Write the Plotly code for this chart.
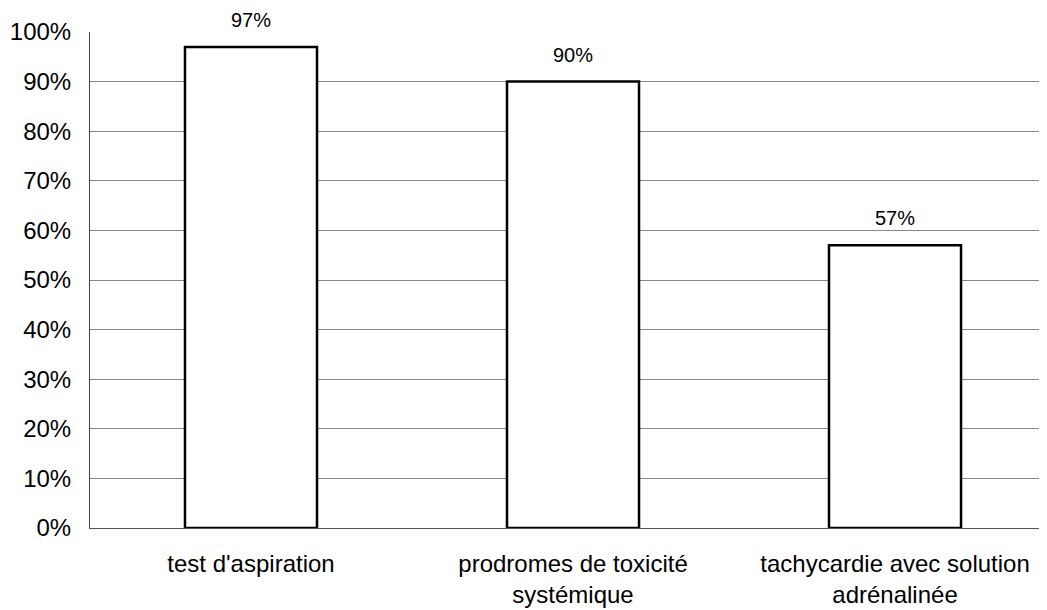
import plotly.graph_objects as go

categories = ["test d'aspiration", "prodromes de toxicité<br>systémique", "tachycardie avec solution<br>adrénalinée"]
values = [0.97, 0.90, 0.57]
value_labels = ["97%", "90%", "57%"]
y_tickvals = [0, 0.1, 0.2, 0.3, 0.4, 0.5, 0.6, 0.7, 0.8, 0.9, 1.0]
y_ticktext = ["0%", "10%", "20%", "30%", "40%", "50%", "60%", "70%", "80%", "90%", "100%"]
grid_vals = [0.1, 0.2, 0.3, 0.4, 0.5, 0.6, 0.7, 0.8, 0.9]
x_pos = [0, 1, 2]

fig = go.Figure(go.Bar(
    x=x_pos, y=values, width=0.41,
    marker=dict(color="white", line=dict(color="black", width=2.5)),
))

for xp, v, lab in zip(x_pos, values, value_labels):
    fig.add_annotation(x=xp, y=v, text=lab, showarrow=False, yanchor="bottom",
                       yshift=14, font=dict(size=20, color="black"))

fig.update_layout(
    width=1039, height=602,
    margin=dict(l=82, r=0, t=24, b=82),
    paper_bgcolor="white", plot_bgcolor="white",
    showlegend=False,
    font=dict(family="Liberation Sans, Arial", color="black"),
    xaxis=dict(
        range=[-0.5, 2.472], tickvals=x_pos, ticktext=categories,
        tickfont=dict(size=24), showgrid=False, zeroline=False,
        showline=True, linecolor="#555555", linewidth=1, ticks="",
        ticklabelstandoff=14,
    ),
    yaxis=dict(
        range=[0, 1.0], tickvals=y_tickvals, ticktext=y_ticktext,
        tickfont=dict(size=24), showgrid=False, zeroline=False,
        showline=True, linecolor="#444444", linewidth=1, ticks="",
        ticklabelstandoff=13,
        minor=dict(tickvals=grid_vals, showgrid=True, gridcolor="#888888", gridwidth=1, ticks=""),
    ),
)

fig.write_html("out.html")
